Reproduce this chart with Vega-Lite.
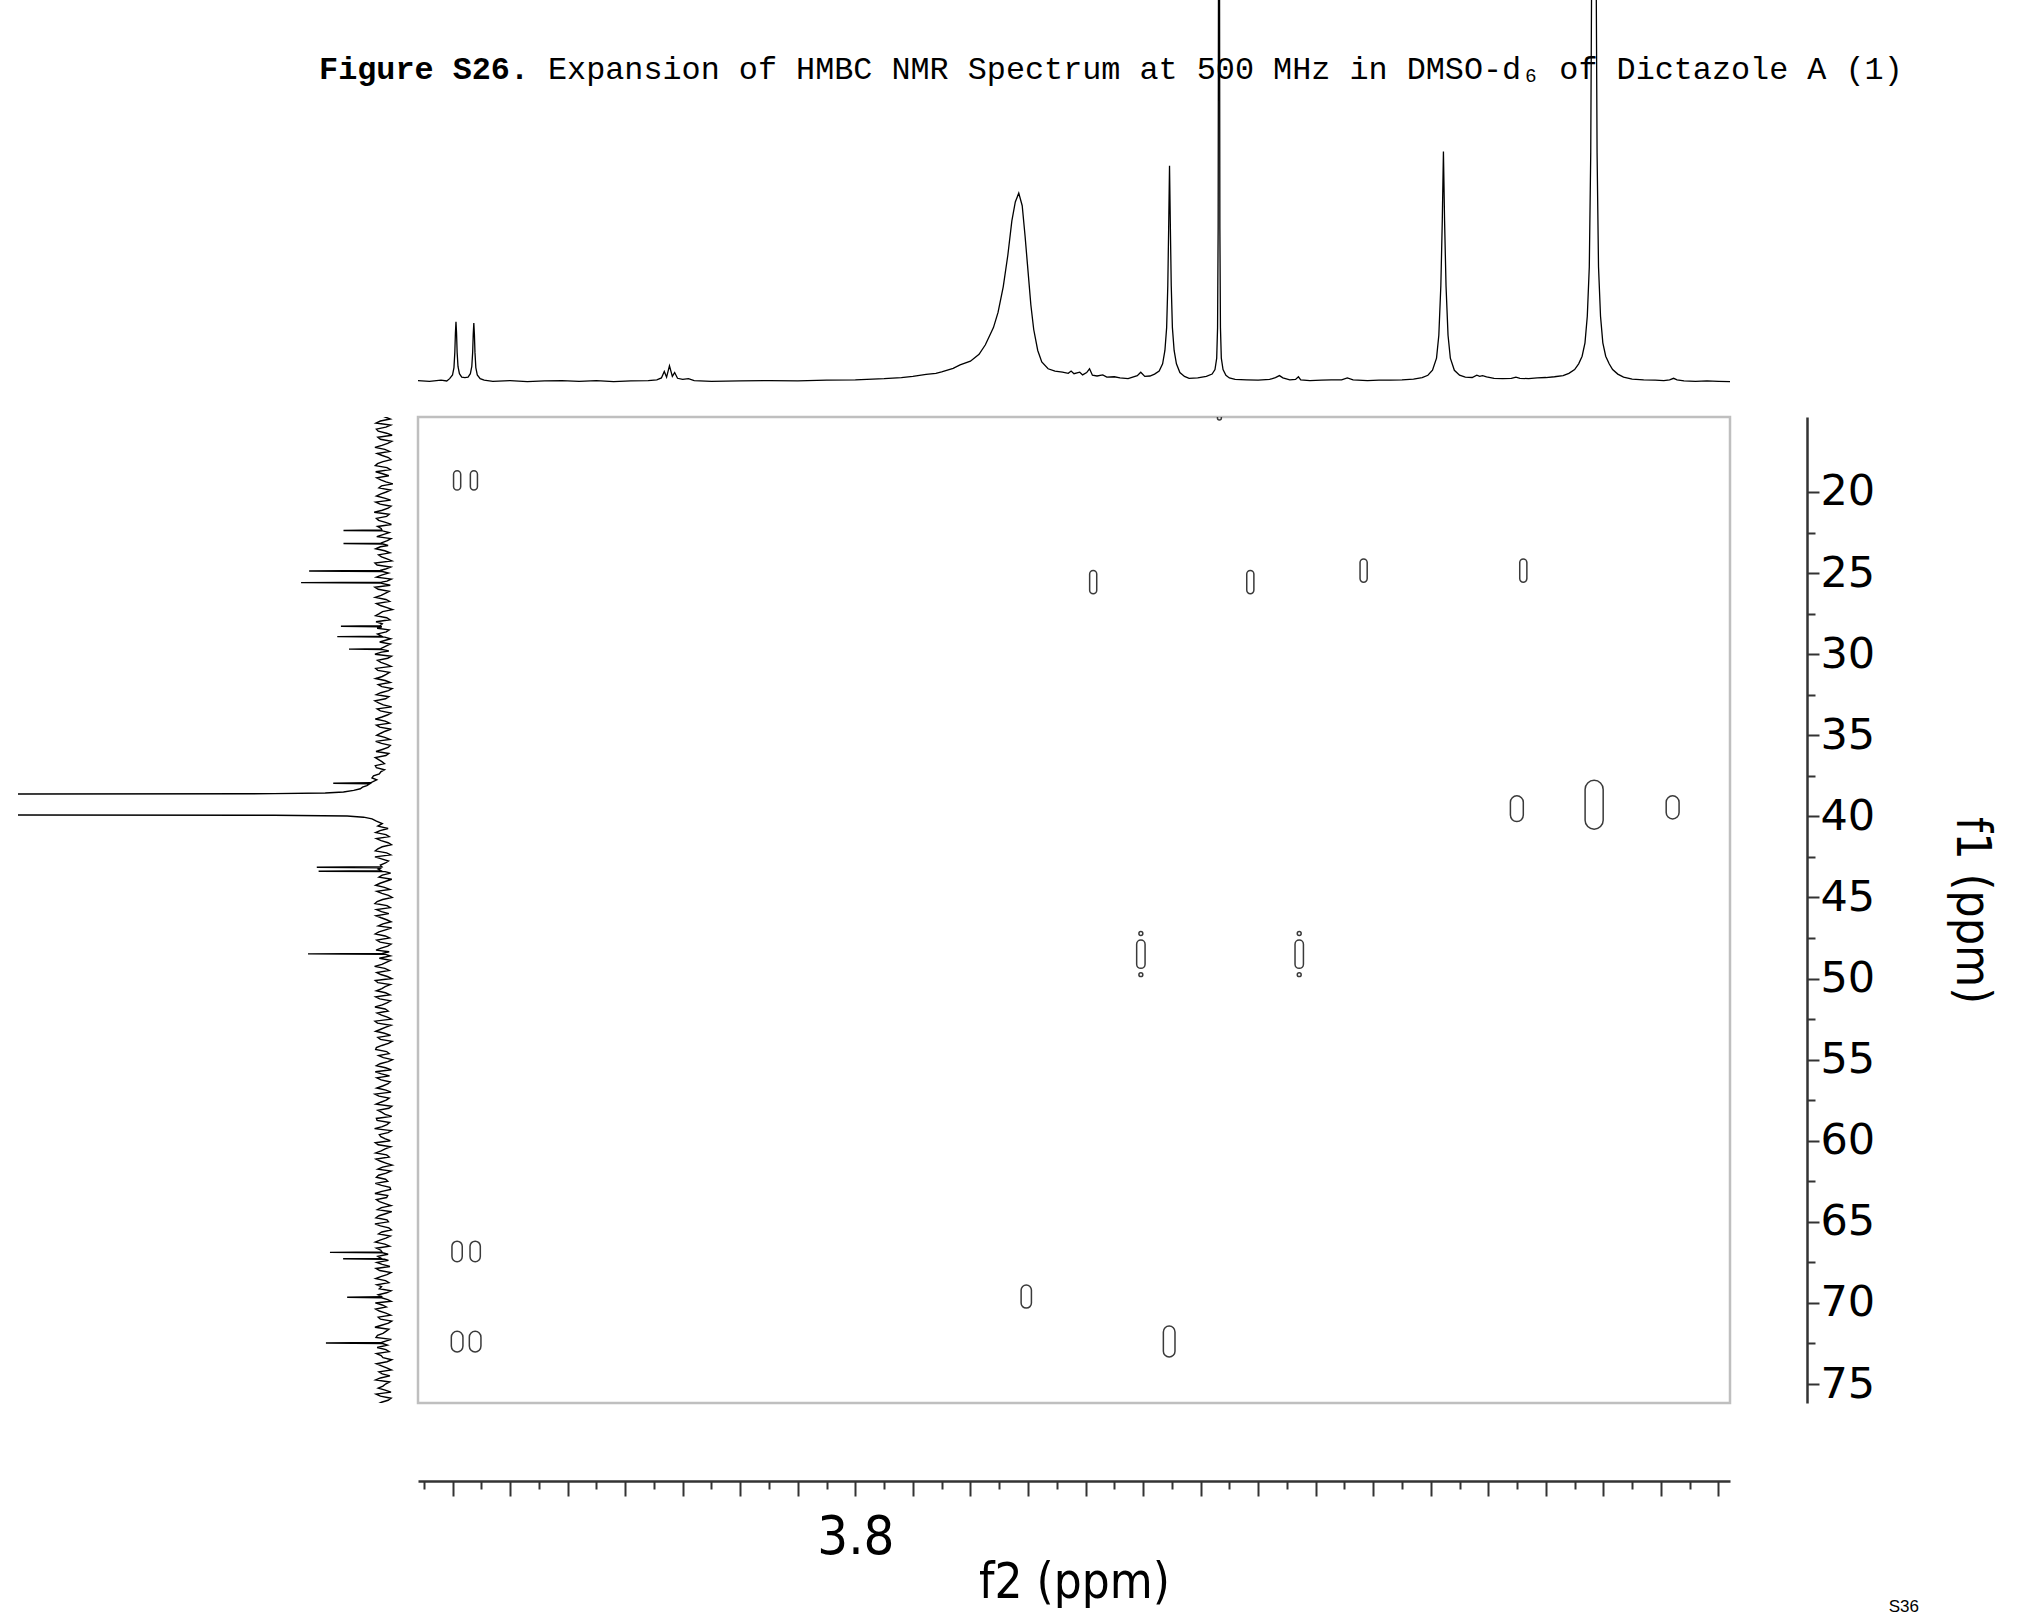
{
  "$schema": "https://vega.github.io/schema/vega-lite/v6.json",
  "background": "white",
  "padding": {"left": 18, "top": 0, "right": 24, "bottom": 0},
  "config": {"view": {"stroke": null}},
  "bounds": "flush",
  "align": "each",
  "columns": 2,
  "spacing": {"row": 17, "column": 16},
  "datasets": {
    "proton": [
      {"h": 4.56, "v": 0.1}, {"h": 4.54, "v": -0.1}, {"h": 4.52, "v": 0.2}, {"h": 4.51, "v": 0.0},
      {"h": 4.505, "v": 0.6}, {"h": 4.5, "v": 1.6}, {"h": 4.4975, "v": 3.5}, {"h": 4.496, "v": 7.5},
      {"h": 4.495, "v": 12.5}, {"h": 4.494, "v": 15.5}, {"h": 4.493, "v": 12.5}, {"h": 4.492, "v": 7.5},
      {"h": 4.4905, "v": 3.8}, {"h": 4.488, "v": 1.9}, {"h": 4.484, "v": 1.0}, {"h": 4.4785, "v": 0.9},
      {"h": 4.473, "v": 1.0}, {"h": 4.469, "v": 1.9}, {"h": 4.4665, "v": 3.8}, {"h": 4.465, "v": 7.5},
      {"h": 4.464, "v": 12.3}, {"h": 4.463, "v": 15.2}, {"h": 4.462, "v": 12.3}, {"h": 4.461, "v": 7.5},
      {"h": 4.4595, "v": 3.5}, {"h": 4.457, "v": 1.6}, {"h": 4.452, "v": 0.6}, {"h": 4.445, "v": 0.2},
      {"h": 4.43, "v": -0.1}, {"h": 4.4, "v": 0.1}, {"h": 4.37, "v": -0.2}, {"h": 4.34, "v": 0.0},
      {"h": 4.31, "v": 0.1}, {"h": 4.28, "v": -0.1}, {"h": 4.25, "v": 0.1}, {"h": 4.22, "v": -0.2},
      {"h": 4.19, "v": 0.0}, {"h": 4.16, "v": 0.1}, {"h": 4.145, "v": 0.3}, {"h": 4.137, "v": 0.8},
      {"h": 4.132, "v": 2.5}, {"h": 4.128, "v": 1.0}, {"h": 4.123, "v": 4.0}, {"h": 4.118, "v": 1.2},
      {"h": 4.114, "v": 2.2}, {"h": 4.109, "v": 0.7}, {"h": 4.1, "v": 0.4}, {"h": 4.09, "v": 0.6},
      {"h": 4.08, "v": 0.1}, {"h": 4.05, "v": -0.1}, {"h": 4.0, "v": 0.0}, {"h": 3.95, "v": 0.1},
      {"h": 3.9, "v": 0.0}, {"h": 3.85, "v": 0.2}, {"h": 3.8, "v": 0.3}, {"h": 3.75, "v": 0.6},
      {"h": 3.72, "v": 0.9}, {"h": 3.7, "v": 1.2}, {"h": 3.677, "v": 1.7}, {"h": 3.66, "v": 2.0},
      {"h": 3.65, "v": 2.4}, {"h": 3.63, "v": 3.3}, {"h": 3.618, "v": 4.2}, {"h": 3.6, "v": 5.2},
      {"h": 3.585, "v": 7.0}, {"h": 3.574, "v": 9.5}, {"h": 3.56, "v": 14}, {"h": 3.552, "v": 18},
      {"h": 3.543, "v": 24.7}, {"h": 3.535, "v": 33}, {"h": 3.528, "v": 42}, {"h": 3.522, "v": 47},
      {"h": 3.516, "v": 49.3}, {"h": 3.51, "v": 46}, {"h": 3.505, "v": 38}, {"h": 3.501, "v": 30.8},
      {"h": 3.495, "v": 20}, {"h": 3.49, "v": 13.5}, {"h": 3.483, "v": 8}, {"h": 3.476, "v": 5},
      {"h": 3.465, "v": 3.2}, {"h": 3.453, "v": 2.6}, {"h": 3.44, "v": 2.3}, {"h": 3.43, "v": 2.0},
      {"h": 3.425, "v": 2.6}, {"h": 3.42, "v": 1.9}, {"h": 3.41, "v": 2.3}, {"h": 3.405, "v": 1.6},
      {"h": 3.398, "v": 2.2}, {"h": 3.393, "v": 3.2}, {"h": 3.388, "v": 1.5}, {"h": 3.38, "v": 1.3},
      {"h": 3.37, "v": 1.6}, {"h": 3.363, "v": 1.0}, {"h": 3.35, "v": 1.1}, {"h": 3.34, "v": 0.8},
      {"h": 3.326, "v": 0.6}, {"h": 3.31, "v": 1.4}, {"h": 3.304, "v": 2.3}, {"h": 3.297, "v": 1.2},
      {"h": 3.288, "v": 1.3}, {"h": 3.28, "v": 1.8}, {"h": 3.272, "v": 2.6}, {"h": 3.266, "v": 4.5},
      {"h": 3.262, "v": 8}, {"h": 3.259, "v": 14}, {"h": 3.257, "v": 25}, {"h": 3.2555, "v": 40},
      {"h": 3.254, "v": 56.5}, {"h": 3.2525, "v": 40}, {"h": 3.251, "v": 25}, {"h": 3.249, "v": 14},
      {"h": 3.246, "v": 8}, {"h": 3.242, "v": 4.5}, {"h": 3.236, "v": 2.2}, {"h": 3.228, "v": 1.2},
      {"h": 3.22, "v": 0.7}, {"h": 3.205, "v": 0.8}, {"h": 3.19, "v": 1.2}, {"h": 3.18, "v": 1.8},
      {"h": 3.175, "v": 3}, {"h": 3.172, "v": 6}, {"h": 3.1705, "v": 14}, {"h": 3.1695, "v": 40},
      {"h": 3.1685, "v": 150}, {"h": 3.168, "v": 800}, {"h": 3.1675, "v": 150}, {"h": 3.1665, "v": 40},
      {"h": 3.1655, "v": 14}, {"h": 3.164, "v": 6}, {"h": 3.161, "v": 3}, {"h": 3.156, "v": 1.5},
      {"h": 3.15, "v": 0.8}, {"h": 3.14, "v": 0.4}, {"h": 3.12, "v": 0.3}, {"h": 3.1, "v": 0.2},
      {"h": 3.08, "v": 0.4}, {"h": 3.07, "v": 0.9}, {"h": 3.063, "v": 1.4}, {"h": 3.057, "v": 0.8},
      {"h": 3.045, "v": 0.3}, {"h": 3.035, "v": 0.4}, {"h": 3.03, "v": 1.1}, {"h": 3.026, "v": 0.3},
      {"h": 3.01, "v": 0.1}, {"h": 2.99, "v": 0.2}, {"h": 2.973, "v": 0.3}, {"h": 2.955, "v": 0.3},
      {"h": 2.945, "v": 0.8}, {"h": 2.935, "v": 0.3}, {"h": 2.91, "v": 0.1}, {"h": 2.89, "v": 0.2},
      {"h": 2.87, "v": 0.2}, {"h": 2.85, "v": 0.3}, {"h": 2.83, "v": 0.5}, {"h": 2.815, "v": 0.9},
      {"h": 2.805, "v": 1.5}, {"h": 2.797, "v": 2.8}, {"h": 2.79, "v": 6}, {"h": 2.786, "v": 12},
      {"h": 2.7825, "v": 25}, {"h": 2.78, "v": 42}, {"h": 2.778, "v": 60.2}, {"h": 2.776, "v": 42},
      {"h": 2.7735, "v": 25}, {"h": 2.77, "v": 12}, {"h": 2.766, "v": 6}, {"h": 2.759, "v": 2.8},
      {"h": 2.75, "v": 1.5}, {"h": 2.74, "v": 1.0}, {"h": 2.728, "v": 0.9}, {"h": 2.72, "v": 1.5},
      {"h": 2.715, "v": 1.2}, {"h": 2.71, "v": 1.4}, {"h": 2.703, "v": 1.1}, {"h": 2.69, "v": 0.7},
      {"h": 2.675, "v": 0.6}, {"h": 2.66, "v": 0.7}, {"h": 2.652, "v": 1.0}, {"h": 2.645, "v": 0.7},
      {"h": 2.63, "v": 0.6}, {"h": 2.615, "v": 0.8}, {"h": 2.6, "v": 0.9}, {"h": 2.585, "v": 1.1},
      {"h": 2.57, "v": 1.4}, {"h": 2.56, "v": 2.0}, {"h": 2.55, "v": 3.0}, {"h": 2.543, "v": 4.5},
      {"h": 2.537, "v": 6.5}, {"h": 2.532, "v": 10}, {"h": 2.528, "v": 17}, {"h": 2.5245, "v": 30},
      {"h": 2.522, "v": 60}, {"h": 2.52, "v": 120}, {"h": 2.518, "v": 500}, {"h": 2.5165, "v": 1000},
      {"h": 2.515, "v": 500}, {"h": 2.513, "v": 120}, {"h": 2.511, "v": 60}, {"h": 2.5085, "v": 30},
      {"h": 2.505, "v": 17}, {"h": 2.501, "v": 10}, {"h": 2.496, "v": 6.5}, {"h": 2.49, "v": 4.5},
      {"h": 2.484, "v": 3.0}, {"h": 2.475, "v": 1.8}, {"h": 2.465, "v": 1.0}, {"h": 2.45, "v": 0.5},
      {"h": 2.43, "v": 0.3}, {"h": 2.41, "v": 0.2}, {"h": 2.395, "v": 0.1}, {"h": 2.385, "v": 0.3},
      {"h": 2.378, "v": 0.7}, {"h": 2.372, "v": 0.3}, {"h": 2.36, "v": 0.0}, {"h": 2.34, "v": -0.1},
      {"h": 2.32, "v": 0.0}, {"h": 2.3, "v": -0.1}, {"h": 2.28, "v": -0.2}
    ],
    "carbon": [
      {"c": 15.25, "i": 1.2}, {"c": 15.5, "i": -1.8}, {"c": 15.75, "i": 2.1}, {"c": 16.0, "i": -0.6},
      {"c": 16.25, "i": 1.5}, {"c": 16.5, "i": -2.3}, {"c": 16.75, "i": 0.9}, {"c": 17.0, "i": -1.1},
      {"c": 17.25, "i": 2.4}, {"c": 17.5, "i": -1.6}, {"c": 17.75, "i": 0.4}, {"c": 18.0, "i": -2.0},
      {"c": 18.25, "i": 1.7}, {"c": 18.5, "i": -0.9}, {"c": 18.75, "i": 2.2}, {"c": 19.0, "i": -1.4},
      {"c": 19.25, "i": 0.8}, {"c": 19.5, "i": -2.5}, {"c": 19.75, "i": 1.3}, {"c": 20.0, "i": -0.7},
      {"c": 20.25, "i": 2.0}, {"c": 20.5, "i": -1.9}, {"c": 20.75, "i": 1.0}, {"c": 21.0, "i": -1.2},
      {"c": 21.25, "i": 2.6}, {"c": 21.5, "i": -0.8}, {"c": 21.75, "i": 1.4}, {"c": 22.0, "i": -2.1},
      {"c": 22.25, "i": 0.7}, {"c": 22.34, "i": 0.5}, {"c": 22.37, "i": 11.0}, {"c": 22.4, "i": 0.3},
      {"c": 22.5, "i": -1.5}, {"c": 22.75, "i": 1.9}, {"c": 23.0, "i": -1.0}, {"c": 23.15, "i": 0.8},
      {"c": 23.18, "i": 11.0}, {"c": 23.21, "i": 0.2}, {"c": 23.3, "i": -1.2}, {"c": 23.5, "i": 2.2},
      {"c": 23.75, "i": -1.7}, {"c": 24.0, "i": 0.6}, {"c": 24.25, "i": -2.2}, {"c": 24.5, "i": 1.8},
      {"c": 24.75, "i": -0.5}, {"c": 24.84, "i": 1.0}, {"c": 24.87, "i": 20.4}, {"c": 24.9, "i": 0.4},
      {"c": 25.0, "i": -1.3}, {"c": 25.25, "i": 2.0}, {"c": 25.5, "i": -0.9}, {"c": 25.56, "i": 0.6},
      {"c": 25.59, "i": 22.6}, {"c": 25.62, "i": 0.8}, {"c": 25.75, "i": -1.8}, {"c": 26.0, "i": 1.5},
      {"c": 26.25, "i": -0.4}, {"c": 26.5, "i": 2.3}, {"c": 26.75, "i": -1.6}, {"c": 27.0, "i": 0.9},
      {"c": 27.25, "i": -2.4}, {"c": 27.5, "i": 1.2}, {"c": 27.75, "i": -0.8}, {"c": 28.0, "i": 2.1},
      {"c": 28.25, "i": 1.0}, {"c": 28.28, "i": 11.7}, {"c": 28.31, "i": 0.5}, {"c": 28.5, "i": -1.5},
      {"c": 28.75, "i": 1.7}, {"c": 28.89, "i": 0.6}, {"c": 28.92, "i": 12.7}, {"c": 28.95, "i": -0.3},
      {"c": 29.05, "i": -1.9}, {"c": 29.25, "i": 1.1}, {"c": 29.5, "i": -0.6}, {"c": 29.66, "i": 0.8},
      {"c": 29.69, "i": 9.5}, {"c": 29.72, "i": 0.2}, {"c": 29.8, "i": -1.4}, {"c": 30.0, "i": 2.4},
      {"c": 30.25, "i": -1.1}, {"c": 30.5, "i": 0.8}, {"c": 30.75, "i": -2.0}, {"c": 31.0, "i": 1.6},
      {"c": 31.25, "i": -0.7}, {"c": 31.5, "i": 2.2}, {"c": 31.75, "i": -1.8}, {"c": 32.0, "i": 0.5},
      {"c": 32.25, "i": -1.3}, {"c": 32.5, "i": 2.0}, {"c": 32.75, "i": -0.5}, {"c": 33.0, "i": 1.4},
      {"c": 33.25, "i": -2.2}, {"c": 33.5, "i": 0.9}, {"c": 33.75, "i": -1.0}, {"c": 34.0, "i": 2.3},
      {"c": 34.25, "i": -1.6}, {"c": 34.5, "i": 1.1}, {"c": 34.75, "i": -0.4}, {"c": 35.0, "i": 1.9},
      {"c": 35.25, "i": -1.7}, {"c": 35.5, "i": 0.6}, {"c": 35.75, "i": -1.2}, {"c": 36.0, "i": 2.1},
      {"c": 36.25, "i": -0.6}, {"c": 36.5, "i": 1.4}, {"c": 36.75, "i": -0.2}, {"c": 37.0, "i": 2.0},
      {"c": 37.25, "i": 0.8}, {"c": 37.5, "i": 2.8}, {"c": 37.75, "i": 1.9}, {"c": 37.93, "i": 3.6},
      {"c": 37.96, "i": 13.8}, {"c": 37.99, "i": 3.8}, {"c": 38.1, "i": 4.6}, {"c": 38.2, "i": 5.8},
      {"c": 38.3, "i": 6.4}, {"c": 38.4, "i": 8.2}, {"c": 38.5, "i": 11}, {"c": 38.56, "i": 16},
      {"c": 38.6, "i": 30}, {"c": 38.64, "i": 200}, {"c": 39.89, "i": 200}, {"c": 39.93, "i": 30},
      {"c": 39.98, "i": 10}, {"c": 40.05, "i": 5.5}, {"c": 40.15, "i": 3.2}, {"c": 40.3, "i": 2.0},
      {"c": 40.45, "i": 0.4}, {"c": 40.6, "i": 1.6}, {"c": 40.75, "i": -1.2}, {"c": 41.0, "i": 2.2},
      {"c": 41.25, "i": -1.5}, {"c": 41.5, "i": 0.7}, {"c": 41.75, "i": -2.1}, {"c": 42.0, "i": 1.6},
      {"c": 42.25, "i": -0.8}, {"c": 42.5, "i": 2.4}, {"c": 42.75, "i": -1.3}, {"c": 43.0, "i": 0.9},
      {"c": 43.11, "i": 0.5}, {"c": 43.14, "i": 18.3}, {"c": 43.17, "i": 0.6}, {"c": 43.35, "i": 0.7},
      {"c": 43.38, "i": 17.8}, {"c": 43.41, "i": -0.4}, {"c": 43.5, "i": -1.9}, {"c": 43.75, "i": 1.3},
      {"c": 44.0, "i": -0.6}, {"c": 44.25, "i": 2.2}, {"c": 44.5, "i": -1.7}, {"c": 44.75, "i": 0.5},
      {"c": 45.0, "i": -2.3}, {"c": 45.25, "i": 1.8}, {"c": 45.5, "i": -0.9}, {"c": 45.75, "i": 2.0},
      {"c": 46.0, "i": -1.4}, {"c": 46.25, "i": 0.7}, {"c": 46.5, "i": -2.0}, {"c": 46.75, "i": 1.5},
      {"c": 47.0, "i": -0.5}, {"c": 47.25, "i": 2.3}, {"c": 47.5, "i": -1.6}, {"c": 47.75, "i": 1.0},
      {"c": 48.0, "i": -1.1}, {"c": 48.25, "i": 2.1}, {"c": 48.45, "i": 0.4}, {"c": 48.48, "i": 20.7},
      {"c": 48.51, "i": -0.5}, {"c": 48.6, "i": -1.8}, {"c": 48.75, "i": 1.2}, {"c": 49.0, "i": -0.7},
      {"c": 49.25, "i": 2.5}, {"c": 49.5, "i": -1.5}, {"c": 49.75, "i": 0.8}, {"c": 50.0, "i": -2.2},
      {"c": 50.25, "i": 1.6}, {"c": 50.5, "i": -0.4}, {"c": 50.75, "i": 2.0}, {"c": 51.0, "i": -1.7},
      {"c": 51.25, "i": 1.1}, {"c": 51.5, "i": -0.9}, {"c": 51.75, "i": 2.4}, {"c": 52.0, "i": -1.2},
      {"c": 52.25, "i": 0.6}, {"c": 52.5, "i": -2.1}, {"c": 52.75, "i": 1.7}, {"c": 53.0, "i": -0.6},
      {"c": 53.25, "i": 2.2}, {"c": 53.5, "i": -1.9}, {"c": 53.75, "i": 0.9}, {"c": 54.0, "i": -1.3},
      {"c": 54.25, "i": 2.0}, {"c": 54.5, "i": -0.8}, {"c": 54.75, "i": 1.4}, {"c": 55.0, "i": -2.4},
      {"c": 55.25, "i": 1.0}, {"c": 55.5, "i": -0.5}, {"c": 55.75, "i": 2.3}, {"c": 56.0, "i": -1.6},
      {"c": 56.25, "i": 0.7}, {"c": 56.5, "i": -1.1}, {"c": 56.75, "i": 1.9}, {"c": 57.0, "i": -2.0},
      {"c": 57.25, "i": 1.3}, {"c": 57.5, "i": -0.7}, {"c": 57.75, "i": 2.1}, {"c": 58.0, "i": -1.4},
      {"c": 58.25, "i": 0.5}, {"c": 58.5, "i": -2.2}, {"c": 58.75, "i": 1.8}, {"c": 59.0, "i": -0.9},
      {"c": 59.25, "i": 2.5}, {"c": 59.5, "i": -1.2}, {"c": 59.75, "i": 0.8}, {"c": 60.0, "i": -1.8},
      {"c": 60.25, "i": 1.5}, {"c": 60.5, "i": -0.4}, {"c": 60.75, "i": 2.2}, {"c": 61.0, "i": -1.5},
      {"c": 61.25, "i": 1.0}, {"c": 61.5, "i": -2.3}, {"c": 61.75, "i": 1.6}, {"c": 62.0, "i": -0.7},
      {"c": 62.25, "i": 2.0}, {"c": 62.5, "i": -1.1}, {"c": 62.75, "i": 0.6}, {"c": 63.0, "i": -1.9},
      {"c": 63.25, "i": 2.4}, {"c": 63.5, "i": -0.8}, {"c": 63.75, "i": 1.2}, {"c": 64.0, "i": -2.0},
      {"c": 64.25, "i": 1.7}, {"c": 64.5, "i": -0.5}, {"c": 64.75, "i": 2.1}, {"c": 65.0, "i": -1.3},
      {"c": 65.25, "i": 0.9}, {"c": 65.5, "i": -2.1}, {"c": 65.75, "i": 1.4}, {"c": 66.0, "i": -0.6},
      {"c": 66.25, "i": 2.3}, {"c": 66.5, "i": -1.6}, {"c": 66.75, "i": 0.8}, {"c": 66.85, "i": 0.5},
      {"c": 66.88, "i": 14.7}, {"c": 66.91, "i": 0.3}, {"c": 67.0, "i": -1.2}, {"c": 67.25, "i": 0.7},
      {"c": 67.28, "i": 11.1}, {"c": 67.31, "i": -0.2}, {"c": 67.5, "i": 1.9}, {"c": 67.75, "i": -1.7},
      {"c": 68.0, "i": 1.1}, {"c": 68.25, "i": -0.9}, {"c": 68.5, "i": 2.2}, {"c": 68.75, "i": -1.4},
      {"c": 69.0, "i": 0.6}, {"c": 69.25, "i": -2.0}, {"c": 69.5, "i": 1.5}, {"c": 69.62, "i": 0.4},
      {"c": 69.65, "i": 10.0}, {"c": 69.68, "i": 0.6}, {"c": 69.8, "i": -1.1}, {"c": 70.0, "i": 2.3},
      {"c": 70.25, "i": -0.7}, {"c": 70.5, "i": 1.2}, {"c": 70.75, "i": -1.9}, {"c": 71.0, "i": 0.9},
      {"c": 71.25, "i": -1.3}, {"c": 71.5, "i": 2.4}, {"c": 71.75, "i": -0.6}, {"c": 72.0, "i": 1.7},
      {"c": 72.25, "i": -2.1}, {"c": 72.44, "i": 0.6}, {"c": 72.47, "i": 15.8}, {"c": 72.5, "i": 0.3},
      {"c": 72.6, "i": -1.0}, {"c": 72.75, "i": 1.8}, {"c": 73.0, "i": -1.5}, {"c": 73.25, "i": 0.7},
      {"c": 73.5, "i": -2.2}, {"c": 73.75, "i": 2.0}, {"c": 74.0, "i": -0.8}, {"c": 74.25, "i": 1.3},
      {"c": 74.5, "i": -1.7}, {"c": 74.75, "i": 2.2}, {"c": 75.0, "i": -0.5}, {"c": 75.25, "i": 1.5},
      {"c": 75.5, "i": -2.0}, {"c": 75.75, "i": 0.9}, {"c": 76.0, "i": -1.2}, {"c": 76.25, "i": 1.8},
      {"c": 15.375, "i": -0.4}, {"c": 15.625, "i": 0.9}, {"c": 15.875, "i": -1.9}, {"c": 16.125, "i": 2.0},
      {"c": 16.375, "i": -0.8}, {"c": 16.625, "i": 1.6}, {"c": 16.875, "i": -2.2}, {"c": 17.125, "i": 0.5},
      {"c": 17.375, "i": -0.3}, {"c": 17.625, "i": 1.8}, {"c": 17.875, "i": -1.3}, {"c": 18.125, "i": 0.2},
      {"c": 18.375, "i": 2.3}, {"c": 18.625, "i": -1.8}, {"c": 18.875, "i": 0.3}, {"c": 19.125, "i": 1.9},
      {"c": 19.375, "i": -0.6}, {"c": 19.625, "i": 0.6}, {"c": 19.875, "i": -1.9}, {"c": 20.125, "i": 0.9},
      {"c": 20.375, "i": -0.2}, {"c": 20.625, "i": 2.2}, {"c": 20.875, "i": -2.0}, {"c": 21.125, "i": 0.4},
      {"c": 21.375, "i": -1.5}, {"c": 21.625, "i": 2.0}, {"c": 21.875, "i": -0.5}, {"c": 22.125, "i": 1.7},
      {"c": 22.625, "i": 0.2}, {"c": 22.875, "i": -2.0}, {"c": 23.375, "i": 0.9}, {"c": 23.625, "i": -0.3},
      {"c": 23.875, "i": 1.4}, {"c": 24.125, "i": -0.9}, {"c": 24.375, "i": 2.4}, {"c": 24.625, "i": -1.9},
      {"c": 25.125, "i": 0.6}, {"c": 25.375, "i": -2.1}, {"c": 25.875, "i": 2.4}, {"c": 26.125, "i": -1.5},
      {"c": 26.375, "i": 0.7}, {"c": 26.625, "i": -0.6}, {"c": 26.875, "i": 2.0}, {"c": 27.125, "i": -0.9},
      {"c": 27.375, "i": 0.3}, {"c": 27.625, "i": 2.2}, {"c": 27.875, "i": -1.7}, {"c": 28.125, "i": 0.4},
      {"c": 28.4, "i": 1.8}, {"c": 28.625, "i": -0.7}, {"c": 29.375, "i": -1.8}, {"c": 29.875, "i": 0.6},
      {"c": 30.125, "i": -2.1}, {"c": 30.375, "i": 1.7}, {"c": 30.625, "i": -0.8}, {"c": 30.875, "i": 2.2},
      {"c": 31.125, "i": -1.6}, {"c": 31.375, "i": 0.4}, {"c": 31.625, "i": -0.4}, {"c": 31.875, "i": 1.5},
      {"c": 32.125, "i": -2.3}, {"c": 32.375, "i": 0.8}, {"c": 32.625, "i": -1.4}, {"c": 32.875, "i": 2.4},
      {"c": 33.125, "i": 0.1}, {"c": 33.375, "i": 1.8}, {"c": 33.625, "i": -2.0}, {"c": 33.875, "i": 0.5},
      {"c": 34.125, "i": -0.4}, {"c": 34.375, "i": 2.0}, {"c": 34.625, "i": -2.1}, {"c": 34.875, "i": 0.8},
      {"c": 35.125, "i": -0.3}, {"c": 35.375, "i": 2.2}, {"c": 35.625, "i": -1.8}, {"c": 35.875, "i": 0.4},
      {"c": 36.125, "i": -1.4}, {"c": 36.375, "i": 2.3}, {"c": 36.625, "i": 0.5}, {"c": 36.875, "i": 2.3},
      {"c": 37.125, "i": -0.2}, {"c": 37.375, "i": 1.2}, {"c": 37.625, "i": 3.2},
      {"c": 40.875, "i": 1.0}, {"c": 41.125, "i": -0.6}, {"c": 41.375, "i": 2.0}, {"c": 41.625, "i": -1.2},
      {"c": 41.875, "i": 0.4}, {"c": 42.125, "i": 2.3}, {"c": 42.375, "i": -1.9}, {"c": 42.625, "i": 0.6},
      {"c": 42.875, "i": -0.5}, {"c": 43.25, "i": 1.5}, {"c": 43.625, "i": 0.4}, {"c": 43.875, "i": -2.2},
      {"c": 44.125, "i": 1.0}, {"c": 44.375, "i": -0.2}, {"c": 44.625, "i": 1.9}, {"c": 44.875, "i": -1.3},
      {"c": 45.125, "i": 0.3}, {"c": 45.375, "i": 2.4}, {"c": 45.625, "i": -1.8}, {"c": 45.875, "i": 0.6},
      {"c": 46.125, "i": 2.1}, {"c": 46.375, "i": -0.8}, {"c": 46.625, "i": 0.2}, {"c": 46.875, "i": -2.2},
      {"c": 47.125, "i": 1.3}, {"c": 47.375, "i": -0.4}, {"c": 47.625, "i": 1.9}, {"c": 47.875, "i": -2.0},
      {"c": 48.125, "i": 0.7}, {"c": 48.35, "i": -1.5}, {"c": 48.875, "i": -1.9}, {"c": 49.125, "i": 0.5},
      {"c": 49.375, "i": -0.3}, {"c": 49.625, "i": 1.9}, {"c": 49.875, "i": -1.0}, {"c": 50.125, "i": 2.3},
      {"c": 50.375, "i": -1.8}, {"c": 50.625, "i": 0.5}, {"c": 50.875, "i": -0.5}, {"c": 51.125, "i": 2.2},
      {"c": 51.375, "i": -1.9}, {"c": 51.625, "i": 0.4}, {"c": 51.875, "i": -0.4}, {"c": 52.125, "i": 1.8},
      {"c": 52.375, "i": -1.0}, {"c": 52.625, "i": 2.4}, {"c": 52.875, "i": -2.0}, {"c": 53.125, "i": 0.8},
      {"c": 53.375, "i": -0.2}, {"c": 53.625, "i": 1.6}, {"c": 53.875, "i": -2.3}, {"c": 54.125, "i": 0.5},
      {"c": 54.375, "i": 2.2}, {"c": 54.625, "i": -1.5}, {"c": 54.875, "i": 0.1}, {"c": 55.125, "i": -1.2},
      {"c": 55.375, "i": 2.0}, {"c": 55.625, "i": -2.1}, {"c": 55.875, "i": 0.6}, {"c": 56.125, "i": 1.9},
      {"c": 56.375, "i": -1.8}, {"c": 56.625, "i": 0.3}, {"c": 56.875, "i": -0.6}, {"c": 57.125, "i": 2.4},
      {"c": 57.375, "i": -1.5}, {"c": 57.625, "i": 0.8}, {"c": 57.875, "i": -2.2}, {"c": 58.125, "i": 1.6},
      {"c": 58.375, "i": -0.4}, {"c": 58.625, "i": 2.0}, {"c": 58.875, "i": -1.6}, {"c": 59.125, "i": 0.4},
      {"c": 59.375, "i": -2.1}, {"c": 59.625, "i": 1.2}, {"c": 59.875, "i": -0.3}, {"c": 60.125, "i": 2.3},
      {"c": 60.375, "i": -1.9}, {"c": 60.625, "i": 0.7}, {"c": 60.875, "i": -0.8}, {"c": 61.125, "i": 2.1},
      {"c": 61.375, "i": -0.6}, {"c": 61.625, "i": 0.3}, {"c": 61.875, "i": -2.0}, {"c": 62.125, "i": 1.4},
      {"c": 62.375, "i": -0.5}, {"c": 62.625, "i": 2.3}, {"c": 62.875, "i": -1.7}, {"c": 63.125, "i": 0.5},
      {"c": 63.375, "i": -1.1}, {"c": 63.625, "i": 2.0}, {"c": 63.875, "i": -0.4}, {"c": 64.125, "i": 0.6},
      {"c": 64.375, "i": -2.2}, {"c": 64.625, "i": 1.3}, {"c": 64.875, "i": -0.9}, {"c": 65.125, "i": 2.4},
      {"c": 65.375, "i": -1.4}, {"c": 65.625, "i": 0.5}, {"c": 65.875, "i": -1.8}, {"c": 66.125, "i": 1.0},
      {"c": 66.375, "i": -0.3}, {"c": 66.625, "i": 2.0}, {"c": 67.125, "i": 1.6}, {"c": 67.375, "i": -1.3},
      {"c": 67.625, "i": 0.4}, {"c": 67.875, "i": 2.1}, {"c": 68.125, "i": -2.0}, {"c": 68.375, "i": 0.8},
      {"c": 68.625, "i": -0.5}, {"c": 68.875, "i": 1.9}, {"c": 69.125, "i": 1.2}, {"c": 69.375, "i": -0.8},
      {"c": 69.9, "i": -2.0}, {"c": 70.125, "i": 0.4}, {"c": 70.375, "i": 2.2}, {"c": 70.625, "i": -0.6},
      {"c": 70.875, "i": 1.5}, {"c": 71.125, "i": -2.2}, {"c": 71.375, "i": 0.6}, {"c": 71.625, "i": -1.4},
      {"c": 71.875, "i": 0.2}, {"c": 72.125, "i": 2.1}, {"c": 72.35, "i": -0.5}, {"c": 72.875, "i": -0.6},
      {"c": 73.125, "i": 2.0}, {"c": 73.375, "i": 0.2}, {"c": 73.625, "i": -0.9}, {"c": 73.875, "i": 0.6},
      {"c": 74.125, "i": -2.1}, {"c": 74.375, "i": 0.4}, {"c": 74.625, "i": 0.9}, {"c": 74.875, "i": -1.6},
      {"c": 75.125, "i": 0.2}, {"c": 75.375, "i": -0.4}, {"c": 75.625, "i": 2.1}, {"c": 75.875, "i": -2.0},
      {"c": 76.125, "i": 0.6}
    ],
    "crosspeaks": [
      {"x1": 4.4982, "x2": 4.4858, "y1": 18.69, "y2": 19.88},
      {"x1": 4.469, "x2": 4.4567, "y1": 18.69, "y2": 19.88},
      {"x1": 3.3928, "x2": 3.3805, "y1": 24.84, "y2": 26.27},
      {"x1": 3.1198, "x2": 3.1074, "y1": 24.84, "y2": 26.27},
      {"x1": 2.9229, "x2": 2.9105, "y1": 24.13, "y2": 25.56},
      {"x1": 2.6454, "x2": 2.633, "y1": 24.13, "y2": 25.56},
      {"x1": 2.6616, "x2": 2.6392, "y1": 38.73, "y2": 40.32},
      {"x1": 2.5318, "x2": 2.5004, "y1": 37.78, "y2": 40.79},
      {"x1": 2.3909, "x2": 2.3685, "y1": 38.73, "y2": 40.16},
      {"x1": 3.3111, "x2": 3.2965, "y1": 47.62, "y2": 49.37},
      {"x1": 3.3072, "x2": 3.3004, "y1": 47.1, "y2": 47.34},
      {"x1": 3.3072, "x2": 3.3004, "y1": 49.64, "y2": 49.88},
      {"x1": 3.0359, "x2": 3.0213, "y1": 47.62, "y2": 49.37},
      {"x1": 3.032, "x2": 3.0252, "y1": 47.1, "y2": 47.34},
      {"x1": 3.032, "x2": 3.0252, "y1": 49.64, "y2": 49.88},
      {"x1": 4.501, "x2": 4.4831, "y1": 66.19, "y2": 67.46},
      {"x1": 4.4696, "x2": 4.4517, "y1": 66.19, "y2": 67.46},
      {"x1": 3.5119, "x2": 3.494, "y1": 68.89, "y2": 70.32},
      {"x1": 4.5021, "x2": 4.4819, "y1": 71.75, "y2": 73.02},
      {"x1": 4.4708, "x2": 4.4506, "y1": 71.75, "y2": 73.02},
      {"x1": 3.2647, "x2": 3.2445, "y1": 71.43, "y2": 73.33},
      {"x1": 3.1707, "x2": 3.1639, "y1": 14.76, "y2": 15.56}
    ]
  },
  "concat": [
    {
      "width": 384,
      "height": 400,
      "data": {"values": [{}]},
      "mark": {"type": "point", "opacity": 0},
      "title": {
        "text": "Figure S26.",
        "anchor": "end",
        "font": "Liberation Mono",
        "fontWeight": "bold",
        "fontSize": 31.8,
        "color": "black",
        "offset": -86,
        "dx": 127
      }
    },
    {
      "width": 1312,
      "height": 400,
      "data": {"name": "proton"},
      "title": {
        "text": "Expansion of HMBC NMR Spectrum at 500 MHz in DMSO-d₆ of Dictazole A (1)",
        "anchor": "start",
        "font": "Liberation Mono",
        "fontWeight": "normal",
        "fontSize": 31.8,
        "color": "black",
        "offset": -86,
        "dx": 130
      },
      "mark": {"type": "line", "clip": true, "color": "black", "strokeWidth": 1.3},
      "encoding": {
        "x": {"field": "h", "type": "quantitative", "scale": {"domain": [2.28, 4.56], "reverse": true, "nice": false, "zero": false}, "axis": null},
        "y": {"field": "v", "type": "quantitative", "scale": {"domain": [-5, 100], "nice": false, "zero": false}, "axis": null}
      }
    },
    {
      "width": 384,
      "height": 986,
      "data": {"name": "carbon"},
      "mark": {"type": "line", "clip": true, "color": "black", "strokeWidth": 1.4},
      "encoding": {
        "x": {"field": "i", "type": "quantitative", "scale": {"domain": [-5, 100], "reverse": true, "nice": false, "zero": false}, "axis": null},
        "y": {"field": "c", "type": "quantitative", "scale": {"domain": [15.376, 76.17], "reverse": true, "nice": false, "zero": false}, "axis": null},
        "order": {"field": "c", "type": "quantitative"}
      }
    },
    {
      "width": 1312,
      "height": 986,
      "view": {"stroke": "#bfbfbf", "strokeWidth": 2.5},
      "data": {"name": "crosspeaks"},
      "title": {
        "text": "S36",
        "orient": "bottom",
        "anchor": "end",
        "frame": "group",
        "font": "Liberation Sans",
        "fontWeight": "normal",
        "fontSize": 17,
        "color": "black",
        "offset": -8,
        "dx": 189
      },
      "mark": {"type": "rect", "clip": true, "filled": false, "color": "#3a3a3a", "strokeWidth": 1.5, "cornerRadius": 40},
      "encoding": {
        "x": {
          "field": "x1", "type": "quantitative",
          "scale": {"domain": [2.28, 4.56], "reverse": true, "nice": false, "zero": false},
          "axis": {
            "orient": "bottom", "offset": 78, "grid": false,
            "values": [2.3, 2.35, 2.4, 2.45, 2.5, 2.55, 2.6, 2.65, 2.7, 2.75, 2.8, 2.85, 2.9, 2.95, 3.0, 3.05, 3.1, 3.15, 3.2, 3.25, 3.3, 3.35, 3.4, 3.45, 3.5, 3.55, 3.6, 3.65, 3.7, 3.75, 3.8, 3.85, 3.9, 3.95, 4.0, 4.05, 4.1, 4.15, 4.2, 4.25, 4.3, 4.35, 4.4, 4.45, 4.5, 4.55],
            "labelExpr": "abs(datum.value - 3.8) < 0.001 ? '3.8' : ''",
            "labelOverlap": false, "labelFlush": false,
            "tickSize": {"condition": {"test": "abs(datum.value * 10 - round(datum.value * 10)) < 0.01", "value": 15}, "value": 8},
            "tickColor": "#333", "tickWidth": 2,
            "domainColor": "#333", "domainWidth": 2.5,
            "labelFont": "Liberation Sans Narrow, DejaVu Sans Condensed, DejaVu Sans",
            "labelFontSize": 54, "labelColor": "black", "labelPadding": 14,
            "title": "f2 (ppm)",
            "titleFont": "Liberation Sans Narrow, DejaVu Sans Condensed, DejaVu Sans",
            "titleFontSize": 49, "titleFontWeight": "normal", "titleColor": "black", "titlePadding": -6
          }
        },
        "x2": {"field": "x2"},
        "y": {
          "field": "y1", "type": "quantitative",
          "scale": {"domain": [15.376, 76.17], "reverse": true, "nice": false, "zero": false},
          "axis": {
            "orient": "right", "offset": 77, "grid": false,
            "values": [20, 22.5, 25, 27.5, 30, 32.5, 35, 37.5, 40, 42.5, 45, 47.5, 50, 52.5, 55, 57.5, 60, 62.5, 65, 67.5, 70, 72.5, 75],
            "labelExpr": "datum.value % 5 == 0 ? datum.label : ''",
            "labelOverlap": false, "labelFlush": false,
            "tickSize": {"condition": {"test": "datum.value % 5 == 0", "value": 12}, "value": 8},
            "tickColor": "#333", "tickWidth": 2,
            "domainColor": "#333", "domainWidth": 2.5,
            "labelFont": "DejaVu Sans", "labelFontSize": 43, "labelColor": "black", "labelPadding": 1,
            "title": "f1 (ppm)",
            "titleFont": "Liberation Sans Narrow, DejaVu Sans Condensed, DejaVu Sans",
            "titleFontSize": 48, "titleFontWeight": "normal", "titleColor": "black", "titlePadding": 72
          }
        },
        "y2": {"field": "y2"}
      }
    }
  ]
}
